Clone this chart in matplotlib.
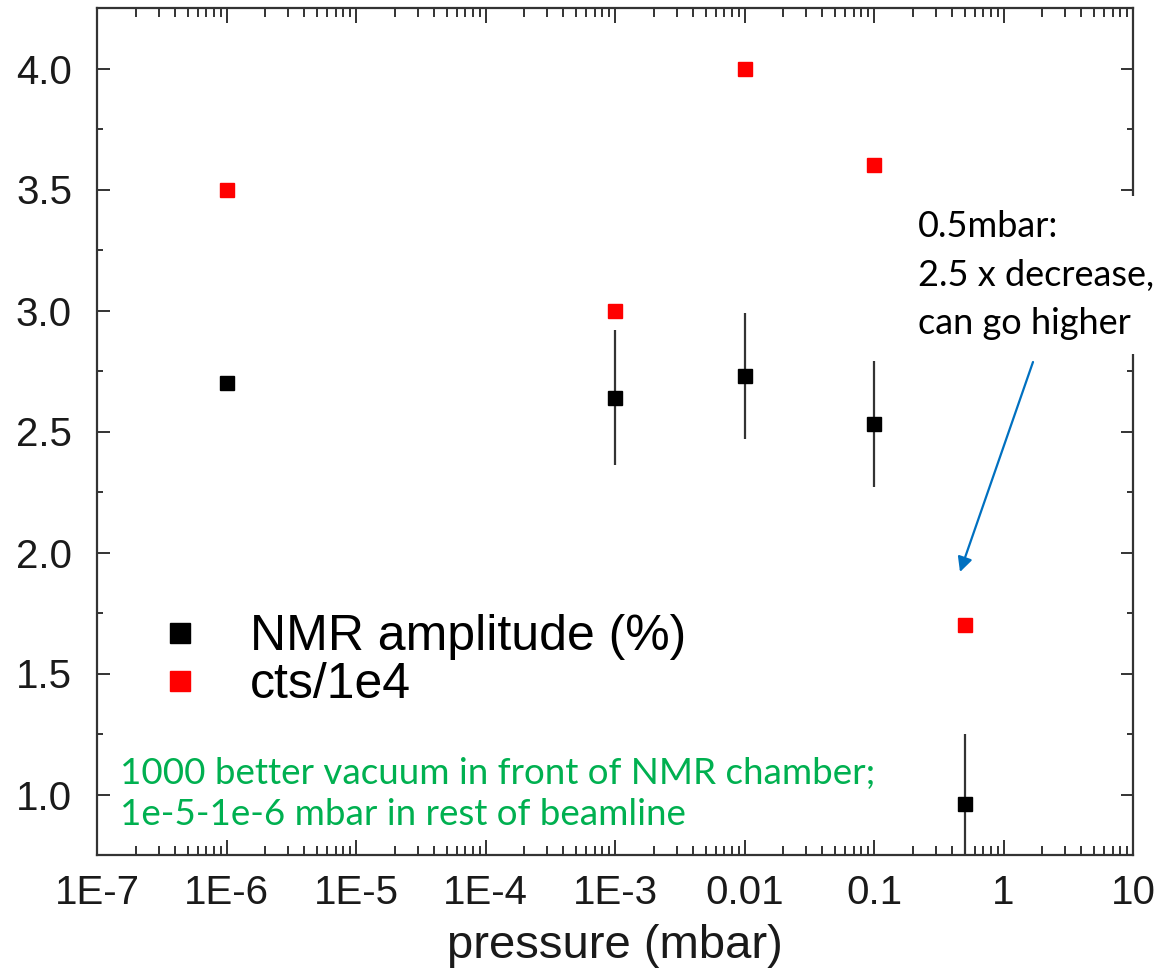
import numpy as np
import matplotlib
matplotlib.use("Agg")
import matplotlib.pyplot as plt
from matplotlib.lines import Line2D
from matplotlib.ticker import FixedLocator, LogLocator, NullFormatter

# data
pressure = [1e-6, 1e-3, 1e-2, 1e-1, 0.5]
nmr_amp = [2.70, 2.64, 2.73, 2.53, 0.96]
nmr_err = [0.0, 0.28, 0.26, 0.26, 0.29]
cts = [3.50, 3.00, 4.00, 3.60, 1.70]

xticks = [1e-7, 1e-6, 1e-5, 1e-4, 1e-3, 1e-2, 1e-1, 1, 10]
xtick_labels = ["1E-7", "1E-6", "1E-5", "1E-4", "1E-3", "0.01", "0.1", "1", "10"]
yticks = [1.0, 1.5, 2.0, 2.5, 3.0, 3.5, 4.0]
ytick_labels = ["1.0", "1.5", "2.0", "2.5", "3.0", "3.5", "4.0"]

plt.rcParams["font.family"] = ["Liberation Sans", "DejaVu Sans"]

W, H = 1176, 974
fig = plt.figure(figsize=(W / 100, H / 100), dpi=100)
ax = fig.add_axes([97 / W, 1 - 855 / H, (1133 - 97) / W, (855 - 8) / H])

ax.errorbar(pressure, nmr_amp, yerr=nmr_err, fmt="s", color="black", ms=10,
            elinewidth=1.6, capsize=0, ecolor="#333333", zorder=3)
ax.plot(pressure, cts, "s", color="#ff0000", ms=10.5, linestyle="none", zorder=3)

ax.set_xscale("log")
ax.set_xlim(1e-7, 10)
ax.set_ylim(0.75, 4.25)

ax.xaxis.set_major_locator(FixedLocator(xticks))
ax.set_xticklabels(xtick_labels)
ax.xaxis.set_minor_locator(LogLocator(base=10, subs=np.arange(2, 10), numticks=20))
ax.xaxis.set_minor_formatter(NullFormatter())
ax.set_yticks(yticks)
ax.set_yticklabels(ytick_labels)
ax.set_yticks(np.arange(0.75, 4.3, 0.5), minor=True)

ax.tick_params(axis="both", which="both", direction="in", top=True, right=True,
               colors="#333333", width=1.4, labelcolor="#1a1a1a")
ax.tick_params(axis="x", which="major", length=11, labelsize=29, pad=14)
ax.tick_params(axis="x", which="minor", length=6.5)
ax.tick_params(axis="y", which="major", length=9, labelsize=29, pad=18)
ax.tick_params(axis="y", which="minor", length=4)
for s in ax.spines.values():
    s.set_linewidth(1.6)
    s.set_color("#333333")

ax.set_xlabel("pressure (mbar)", fontsize=34, labelpad=8, color="#1a1a1a")

handles = [Line2D([], [], marker="s", color="black", ls="none", ms=14),
           Line2D([], [], marker="s", color="#ff0000", ls="none", ms=14)]
ax.legend(handles, ["NMR amplitude (%)", "cts/1e4"], loc="upper left",
          bbox_to_anchor=(155 / W, 1 - 614 / H), bbox_transform=fig.transFigure,
          frameon=False, fontsize=36, borderpad=0, borderaxespad=0,
          handletextpad=0.9, labelspacing=0.05, handlelength=1.0)

# annotations
fig.text(918 / W, 1 - 210 / H, "0.5mbar:\n2.5 x decrease,\ncan go higher",
         fontsize=26, family="Lato", va="top", ha="left", linespacing=1.58,
         color="black", zorder=5,
         bbox=dict(facecolor="white", edgecolor="none", pad=10))
fig.text(120 / W, 1 - 757 / H,
         "1000 better vacuum in front of NMR chamber;\n1e-5-1e-6 mbar in rest of beamline",
         fontsize=26.5, family="Lato", va="top", ha="left", linespacing=1.3,
         color="#00b050")
ax.annotate("", xy=(960 / W, 1 - 572 / H), xytext=(1033 / W, 1 - 362 / H),
            xycoords="figure fraction", textcoords="figure fraction",
            arrowprops=dict(arrowstyle="-|>", color="#0070c0", lw=1.6,
                            mutation_scale=22, shrinkA=0, shrinkB=0))

fig.savefig("out.png", dpi=100)
